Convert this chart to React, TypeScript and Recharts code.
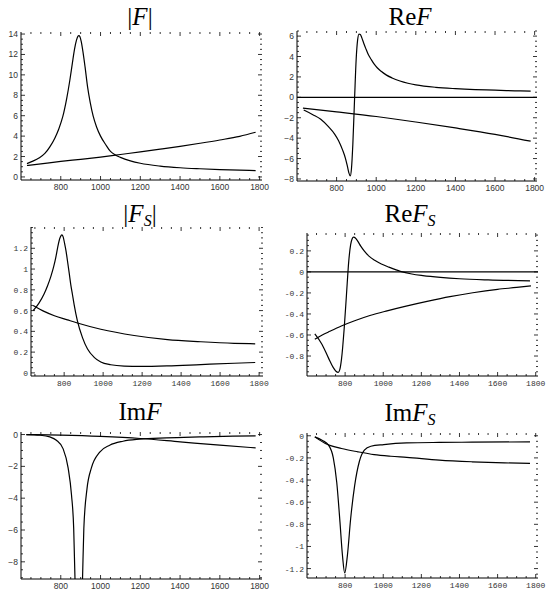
import React from 'react';
import { LineChart, Line, XAxis, YAxis, ReferenceLine } from 'recharts';

// shared energy axis
const xLabels = [800, 1000, 1200, 1400, 1600, 1800];
const xDomain: [number, number] = [600, 1812];
const xDomainS: [number, number] = [630, 1820];

// |F|
const absFPeak = [[630,1.3],[660,1.55],[690,1.85],[720,2.3],[745,2.95],[770,3.8],[790,4.7],[810,5.9],[830,7.7],[845,9.4],[858,11.1],[869,12.5],[879,13.4],[886,13.78],[891,13.85],[896,13.75],[903,13.25],[912,12.2],[922,10.8],[935,8.8],[948,7.3],[963,5.95],[980,4.9],[1000,4.0],[1025,3.2],[1050,2.5],[1075,2.15],[1100,1.92],[1150,1.58],[1200,1.34],[1300,1.06],[1400,0.9],[1500,0.8],[1600,0.72],[1700,0.66],[1780,0.62]];
const absFBg = [[630,1.12],[700,1.28],[800,1.52],[900,1.73],[1000,1.95],[1100,2.2],[1200,2.45],[1300,2.72],[1400,3.0],[1500,3.3],[1600,3.62],[1700,3.98],[1780,4.38]];
const absFTicks = [0, 2, 4, 6, 8, 10, 12, 14];

// Re F
const reFPeak = [[634,-1.25],[680,-1.7],[720,-2.15],[760,-2.9],[790,-3.6],[810,-4.25],[830,-5.15],[845,-6.0],[855,-6.8],[862,-7.4],[869,-7.7],[875,-7.0],[882,-4.6],[891,0],[899,3.8],[906,5.6],[913,6.2],[920,6.15],[928,5.8],[937,5.3],[948,4.75],[960,4.2],[975,3.7],[990,3.25],[1005,2.9],[1025,2.55],[1050,2.2],[1080,1.9],[1120,1.6],[1160,1.38],[1200,1.22],[1300,0.98],[1400,0.85],[1500,0.76],[1600,0.7],[1700,0.64],[1780,0.6]];
const reFBg = [[630,-1.05],[800,-1.42],[1000,-1.88],[1200,-2.42],[1400,-3.0],[1600,-3.63],[1780,-4.3]];
const reFTicks = [-8, -6, -4, -2, 0, 2, 4, 6];

// |F_S|
const absFSPeak = [[641,0.6],[670,0.67],[697,0.76],[715,0.84],[732,0.93],[746,1.02],[757,1.11],[766,1.2],[774,1.27],[781,1.31],[788,1.33],[795,1.31],[802,1.25],[810,1.17],[817,1.08],[826,0.96],[834,0.85],[843,0.75],[851,0.66],[868,0.5],[894,0.34],[920,0.23],[954,0.15],[988,0.105],[1039,0.078],[1108,0.065],[1193,0.062],[1330,0.067],[1501,0.08],[1672,0.093],[1780,0.1]];
const absFSBg = [[641,0.65],[700,0.59],[750,0.55],[817,0.51],[868,0.48],[988,0.42],[1159,0.36],[1330,0.32],[1501,0.3],[1672,0.285],[1780,0.28]];
const absFSTicks = [0, 0.2, 0.4, 0.6, 0.8, 1, 1.2];

// Re F_S
const reFSPeak = [[641,-0.59],[679,-0.69],[713,-0.82],[738,-0.91],[752,-0.945],[764,-0.955],[772,-0.93],[781,-0.83],[795,-0.54],[807,-0.22],[819,0.1],[829,0.26],[837,0.315],[844,0.33],[855,0.32],[867,0.29],[882,0.245],[900,0.2],[925,0.15],[955,0.11],[990,0.075],[1030,0.045],[1090,0.005],[1150,-0.02],[1208,-0.035],[1300,-0.052],[1400,-0.065],[1550,-0.076],[1770,-0.085]];
const reFSBg = [[641,-0.64],[680,-0.6],[720,-0.565],[780,-0.515],[850,-0.465],[930,-0.415],[1020,-0.37],[1120,-0.325],[1230,-0.28],[1350,-0.235],[1470,-0.198],[1600,-0.166],[1700,-0.148],[1775,-0.133]];
const reFSTicks = [-0.8, -0.6, -0.4, -0.2, 0, 0.2];

// Im F
const imFPeak = [[627,0],[694,-0.04],[745,-0.15],[778,-0.36],[812,-0.9],[837,-2.1],[854,-3.8],[865,-5.9],[872,-9.3],[880,-11.8],[886,-13.3],[891,-13.8],[897,-13.3],[903,-11.8],[909,-9.3],[916,-5.9],[932,-3.4],[954,-2.1],[996,-1.1],[1046,-0.67],[1113,-0.42],[1197,-0.29],[1331,-0.21],[1498,-0.15],[1666,-0.1],[1780,-0.08]];
const imFBg = [[627,0],[800,-0.04],[1000,-0.12],[1200,-0.25],[1400,-0.46],[1600,-0.67],[1780,-0.84]];
const imFTicks = [-8, -6, -4, -2, 0];

// Im F_S
const imFSPeak = [[641,-0.01],[679,-0.04],[713,-0.085],[738,-0.2],[756,-0.42],[773,-0.78],[786,-1.08],[798,-1.24],[812,-1.08],[829,-0.75],[850,-0.45],[875,-0.23],[901,-0.13],[935,-0.095],[1003,-0.08],[1123,-0.065],[1294,-0.06],[1465,-0.058],[1770,-0.055]];
const imFSBg = [[641,-0.01],[696,-0.07],[781,-0.115],[867,-0.145],[952,-0.17],[1040,-0.185],[1123,-0.195],[1294,-0.22],[1465,-0.235],[1636,-0.245],[1770,-0.25]];
const imFSTicks = [-1.2, -1, -0.8, -0.6, -0.4, -0.2, 0];

const toRows = (a: number[][]) => a.map(([x, y]) => ({ x, y }));

const steps = (lo: number, hi: number, step: number) => {
  const out: number[] = [];
  for (let v = Math.ceil(lo / step - 1e-9) * step; v <= hi + 1e-9; v += step) out.push(Math.round(v * 1000) / 1000);
  return out;
};

const isMajor = (v: number, majors: number[]) => majors.some(m => Math.abs(m - v) < 1e-6);

type PanelProps = {
  fl: number; fr: number; ft: number; fb: number;
  xd?: [number, number];
  yDomain: [number, number]; yTicks: number[]; yMinor: number;
  series: number[][][]; zero?: boolean; mono?: boolean;
};

const YW = 40, XH = 20, MT = 4, MR = 14;

function Panel({ fl, fr, ft, fb, xd = xDomain, yDomain, yTicks, yMinor, series, zero, mono }: PanelProps) {
  const w = fr - fl, h = fb - ft;
  const font = mono ? '"Liberation Mono", monospace' : '"Liberation Sans", Arial, sans-serif';
  const fs = mono ? 8 : 8.5;
  const fmt = (v: number) => (mono ? String(v) : String(v).replace('-', '\u2212'));
  const xAll = steps(xd[0] + 1, 1800, 50);
  const yAll = steps(yDomain[0], yDomain[1], yMinor);

  const xTick = (p: any) => {
    const v = p.payload.value;
    const major = isMajor(v, xLabels);
    const len = major ? 4 : 2;
    return (
      <g>
        <line x1={p.x} x2={p.x} y1={p.y} y2={p.y - len} stroke="#000" strokeWidth={0.8} />
        <line x1={p.x} x2={p.x} y1={p.y - h} y2={p.y - h + len} stroke="#000" strokeWidth={0.8} />
        {major && (
          <text x={p.x} y={p.y + 9.5} textAnchor="middle" fontFamily={font} fontSize={fs} fill="#333">{fmt(v)}</text>
        )}
      </g>
    );
  };

  const yTick = (p: any) => {
    const v = p.payload.value;
    const major = isMajor(v, yTicks);
    const len = major ? 4 : 2;
    return (
      <g>
        <line x1={p.x} x2={p.x + len} y1={p.y} y2={p.y} stroke="#000" strokeWidth={0.8} />
        <line x1={p.x + w} x2={p.x + w - len} y1={p.y} y2={p.y} stroke="#000" strokeWidth={0.8} />
        {major && (
          <text x={p.x - 3} y={p.y + 3} textAnchor="end" fontFamily={font} fontSize={fs} fill="#333">{fmt(v)}</text>
        )}
      </g>
    );
  };

  return (
    <div style={{ position: 'absolute', left: fl - YW, top: ft - MT }}>
      <LineChart width={w + YW + MR} height={h + MT + XH} margin={{ top: MT, right: MR, bottom: 0, left: 0 }}>
        <XAxis xAxisId="b" type="number" dataKey="x" domain={xd} allowDataOverflow ticks={xAll} interval={0}
          tick={xTick} tickLine={false} tickSize={0} tickMargin={0} height={XH} axisLine={{ stroke: '#000' }} />
        <XAxis xAxisId="t" orientation="top" type="number" dataKey="x" domain={xd} allowDataOverflow
          tick={false} tickLine={false} height={0} axisLine={{ stroke: '#000' }} />
        <YAxis yAxisId="l" type="number" domain={yDomain} allowDataOverflow ticks={yAll} interval={0}
          tick={yTick} tickLine={false} tickSize={0} tickMargin={0} width={YW} axisLine={{ stroke: '#000' }} />
        <YAxis yAxisId="r" orientation="right" type="number" domain={yDomain} allowDataOverflow
          tick={false} tickLine={false} width={0} axisLine={{ stroke: '#000' }} />
        {zero && <ReferenceLine xAxisId="b" yAxisId="l" y={0} stroke="#000" strokeWidth={1.1} />}
        {series.map((s, i) => (
          <Line key={i} xAxisId="b" yAxisId="l" data={toRows(s)} dataKey="y" type="monotone"
            stroke="#000" strokeWidth={1.2} dot={false} isAnimationActive={false} />
        ))}
      </LineChart>
    </div>
  );
}

const titleFont = '"Liberation Serif", "DejaVu Serif", serif';

export default function App() {
  return (
    <div style={{ position: 'absolute', left: 0, top: 0, width: 546, height: 591, overflow: 'hidden', background: '#fff' }}>
      <svg width={546} height={591} style={{ position: 'absolute', left: 0, top: 0 }}>
        <g fontFamily={titleFont} fontSize={25} fill="#000" textAnchor="middle">
          <text x={140} y={25}>|<tspan fontStyle="italic">F</tspan>|</text>
          <text x={410} y={25}>Re<tspan fontStyle="italic">F</tspan></text>
          <text x={140} y={222}>|<tspan fontStyle="italic">F</tspan><tspan fontStyle="italic" fontSize={16} dy={4}>S</tspan><tspan dy={-4}>|</tspan></text>
          <text x={410} y={222}>Re<tspan fontStyle="italic">F</tspan><tspan fontStyle="italic" fontSize={16} dy={4}>S</tspan></text>
          <text x={140} y={420}>Im<tspan fontStyle="italic">F</tspan></text>
          <text x={410} y={421}>Im<tspan fontStyle="italic">F</tspan><tspan fontStyle="italic" fontSize={16} dy={4}>S</tspan></text>
        </g>
      </svg>
      <Panel fl={21} fr={262} ft={32} fb={180} yDomain={[-0.3, 14.2]} yTicks={absFTicks} yMinor={0.5} series={[absFPeak, absFBg]} />
      <Panel fl={297} fr={537} ft={31} fb={181} yDomain={[-8.2, 6.5]} yTicks={reFTicks} yMinor={0.5} series={[reFPeak, reFBg]} zero />
      <Panel fl={31} fr={263} ft={227} fb={376} xd={xDomainS} yDomain={[-0.03, 1.405]} yTicks={absFSTicks} yMinor={0.05} series={[absFSPeak, absFSBg]} mono />
      <Panel fl={307} fr={538} ft={233} fb={376} yDomain={[-0.99, 0.37]} yTicks={reFSTicks} yMinor={0.05} series={[reFSPeak, reFSBg]} zero mono />
      <Panel fl={21} fr={262} ft={432} fb={579} yDomain={[-9.08, 0.16]} yTicks={imFTicks} yMinor={0.5} series={[imFPeak, imFBg]} />
      <Panel fl={307} fr={538} ft={433} fb={578} yDomain={[-1.285, 0.025]} yTicks={imFSTicks} yMinor={0.05} series={[imFSPeak, imFSBg]} mono />
    </div>
  );
}
